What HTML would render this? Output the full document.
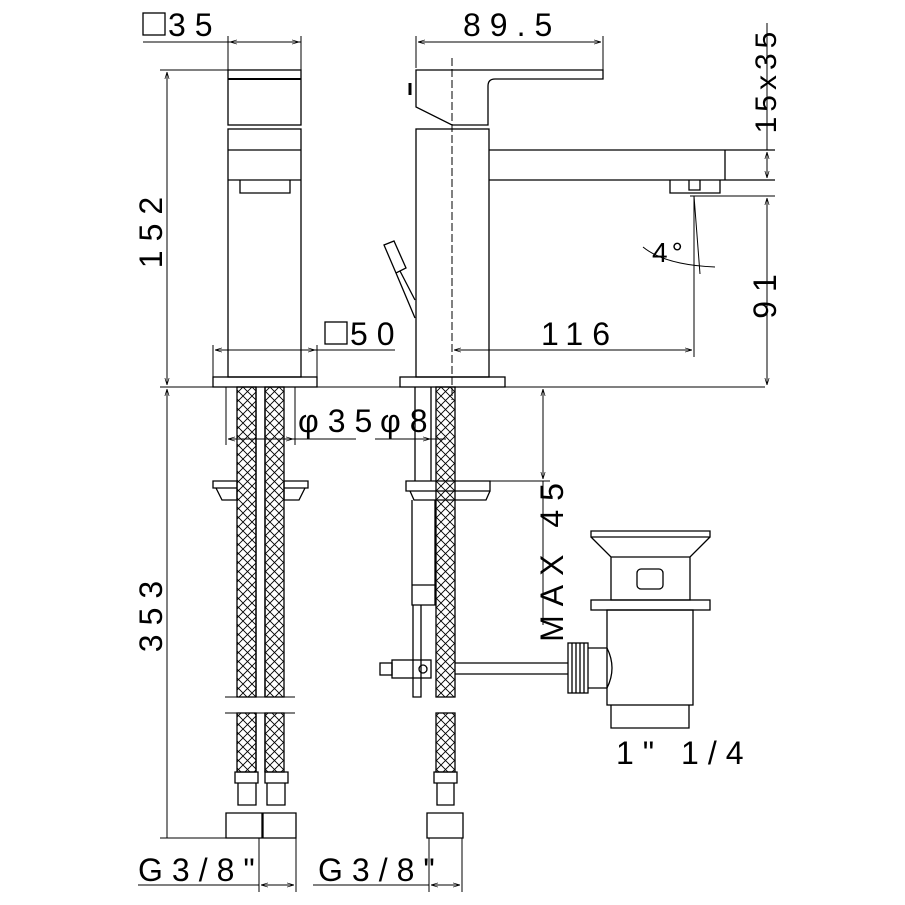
<!DOCTYPE html>
<html><head><style>body{margin:0;background:#fff}svg{display:block}text{font-family:"Liberation Sans",sans-serif;font-size:32px;fill:#000;letter-spacing:9px}</style></head><body>
<svg width="905" height="905" viewBox="0 0 905 905" xmlns="http://www.w3.org/2000/svg">
<defs>
<pattern id="h" width="9" height="9" patternUnits="userSpaceOnUse"><path d="M0 0L9 9M9 0L0 9" stroke="#000" stroke-width="0.9"/></pattern>
<marker id="a" viewBox="0 0 10 10" refX="10" refY="5" markerWidth="7" markerHeight="7" orient="auto-start-reverse"><path d="M0 2L10 5L0 8" fill="none" stroke="#000"/></marker>
</defs>
<g fill="none" stroke="#000" stroke-width="1.3">
<rect x="228" y="70" width="73" height="55"/><line x1="228" y1="79" x2="301" y2="79" stroke-width="2"/>
<rect x="228" y="129" width="73" height="248"/><line x1="228" y1="150" x2="301" y2="150"/><line x1="228" y1="180" x2="301" y2="180"/>
<path d="M240 180V193H290V180"/><rect x="213" y="377" width="104" height="10"/>
<line x1="228" y1="36" x2="228" y2="70" stroke-width="1"/><line x1="301" y1="36" x2="301" y2="70" stroke-width="1"/>
<line x1="143" y1="42" x2="301" y2="42" stroke-width="1"/><line x1="230" y1="42" x2="299" y2="42" stroke-width="1" marker-start="url(#a)" marker-end="url(#a)"/>
<rect x="143" y="13" width="22" height="22"/>
<line x1="160" y1="70" x2="228" y2="70" stroke-width="1"/><line x1="160" y1="387" x2="765" y2="387" stroke-width="1"/>
<line x1="167" y1="72" x2="167" y2="385" stroke-width="1" marker-start="url(#a)" marker-end="url(#a)"/><line x1="167" y1="389" x2="167" y2="838" stroke-width="1" marker-start="url(#a)"/>
<line x1="160" y1="838" x2="226" y2="838" stroke-width="1"/>
<line x1="213" y1="345" x2="213" y2="377" stroke-width="1"/><line x1="317" y1="345" x2="317" y2="377" stroke-width="1"/>
<line x1="215" y1="350" x2="395" y2="350" stroke-width="1"/><line x1="215" y1="350" x2="315" y2="350" stroke-width="1" marker-start="url(#a)" marker-end="url(#a)"/>
<rect x="325" y="322" width="22" height="22"/>
<rect x="416" y="129" width="73" height="248"/><rect x="400" y="377" width="105" height="10"/>
<path d="M416 70H603V79H495Q488 79 488 86V125H452L416 107Z"/><path d="M410 83V95" stroke-width="3"/>
<line x1="452" y1="58" x2="452" y2="400" stroke-dasharray="8,3" stroke-width="1"/>
<path d="M489 150H725V180H489M725 150H775M725 180H775"/><path d="M670 180V193H720V180M689 180V190H700V180"/>
<path d="M384 245L394 241L406 268L396 273Z M396 273L415 318M400 271L415 300"/>
<line x1="416" y1="36" x2="416" y2="68" stroke-width="1"/><line x1="603" y1="36" x2="603" y2="70" stroke-width="1"/>
<line x1="418" y1="42" x2="601" y2="42" stroke-width="1" marker-start="url(#a)" marker-end="url(#a)"/>
<line x1="767" y1="23" x2="767" y2="150" stroke-width="1"/><line x1="767" y1="152" x2="767" y2="178" stroke-width="1" marker-start="url(#a)" marker-end="url(#a)"/>
<line x1="690" y1="196" x2="775" y2="196" stroke-width="1"/><line x1="767" y1="198" x2="767" y2="385" stroke-width="1" marker-start="url(#a)" marker-end="url(#a)"/>
<line x1="694" y1="196" x2="694" y2="357" stroke-width="1"/><line x1="694" y1="196" x2="700" y2="274" stroke-width="1"/>
<line x1="454" y1="350" x2="692" y2="350" stroke-width="1" marker-start="url(#a)" marker-end="url(#a)"/>
<path d="M643 247Q665 265 715 267" stroke-width="1"/>
<rect x="237" y="387" width="19" height="310" fill="url(#h)"/><rect x="265" y="387" width="19" height="310" fill="url(#h)"/>
<rect x="237" y="713" width="19" height="59" fill="url(#h)"/><rect x="265" y="713" width="19" height="59" fill="url(#h)"/>
<path d="M256 387V697M265 387V697M256 713V772M265 713V772" />
<line x1="226" y1="387" x2="226" y2="445" stroke-width="1"/><line x1="295" y1="387" x2="295" y2="445" stroke-width="1"/>
<line x1="228" y1="439" x2="356" y2="439" stroke-width="1"/><line x1="228" y1="439" x2="293" y2="439" stroke-width="1" marker-start="url(#a)" marker-end="url(#a)"/>
<path d="M213 481H237V488H213ZM216 488L222 500H237V488M284 481H308V488H284ZM305 488L299 500H284V488"/>
<path d="M225 697H295M225 713H295" stroke-width="1"/>
<path d="M235 772H258V783H235ZM265 772H288V783H265ZM238 783V805H256V783M267 783V805H285V783M226 813H262V838H226ZM263 813H296V838H263Z"/>
<line x1="259" y1="838" x2="259" y2="892" stroke-width="1"/><line x1="296" y1="838" x2="296" y2="892" stroke-width="1"/>
<line x1="138" y1="885" x2="259" y2="885" stroke-width="1"/><line x1="261" y1="885" x2="294" y2="885" stroke-width="1" marker-start="url(#a)" marker-end="url(#a)"/>
<rect x="436" y="387" width="19" height="310" fill="url(#h)"/><rect x="436" y="713" width="19" height="59" fill="url(#h)"/>
<path d="M415 387V481M431 387V481"/>
<line x1="415" y1="439" x2="430" y2="439" stroke-width="1" marker-end="url(#a)"/><line x1="375" y1="439" x2="446" y2="439" stroke-width="1"/>
<path d="M406 481H490V491H406ZM410 491L414 500H486L490 491"/>
<path d="M412 500V585H435V500M412 585H435V605H412ZM413 605V697H421V605"/>
<rect x="380" y="663" width="12" height="12"/><rect x="392" y="660" width="39" height="18"/><circle cx="423" cy="669" r="4"/>
<path d="M455 663H568M455 674H568"/>
<rect x="568" y="643" width="20" height="50"/><path d="M572 643V693M576 643V693M580 643V693M584 643V693"/>
<path d="M588 648H607M588 688H607M607 648Q617 668 607 688"/>
<path d="M591 531H710V537H591ZM591 537L611 557H690L710 537M611 557V600H690V557"/>
<rect x="637" y="569" width="26" height="20" rx="4"/>
<rect x="591" y="600" width="119" height="10"/><rect x="607" y="610" width="86" height="95"/><path d="M611 705V728H689V705"/>
<line x1="543" y1="389" x2="543" y2="479" stroke-width="1" marker-start="url(#a)" marker-end="url(#a)"/><line x1="543" y1="481" x2="543" y2="625" stroke-width="1"/>
<line x1="490" y1="481" x2="550" y2="481" stroke-width="1"/>
<path d="M434 772H457V783H434ZM437 783V805H454V783M427 813H463V838H427Z"/>
<line x1="429" y1="838" x2="429" y2="892" stroke-width="1"/><line x1="462" y1="838" x2="462" y2="892" stroke-width="1"/>
<line x1="313" y1="885" x2="429" y2="885" stroke-width="1"/><line x1="431" y1="885" x2="460" y2="885" stroke-width="1" marker-start="url(#a)" marker-end="url(#a)"/>
</g>
<text x="168" y="36">35</text>
<text x="463" y="36">89.5</text>
<text x="350" y="345">50</text>
<text x="298" y="432">φ35</text>
<text x="380" y="432">φ8</text>
<text x="541" y="345">116</text>
<text x="138" y="881">G3/8"</text>
<text x="318" y="881">G3/8"</text>
<text x="616" y="764">1"  1/4</text>
<text x="652" y="262" style="font-size:28px;letter-spacing:4px">4°</text>
<text transform="translate(162,228) rotate(-90)" text-anchor="middle">152</text>
<text transform="translate(162,612) rotate(-90)" text-anchor="middle">353</text>
<text transform="translate(563,558) rotate(-90)" text-anchor="middle">MAX 45</text>
<text transform="translate(776,80) rotate(-90)" text-anchor="middle" style="font-size:30px;letter-spacing:5px">15x35</text>
<text transform="translate(776,292) rotate(-90)" text-anchor="middle">91</text>
</svg>
</body></html>
